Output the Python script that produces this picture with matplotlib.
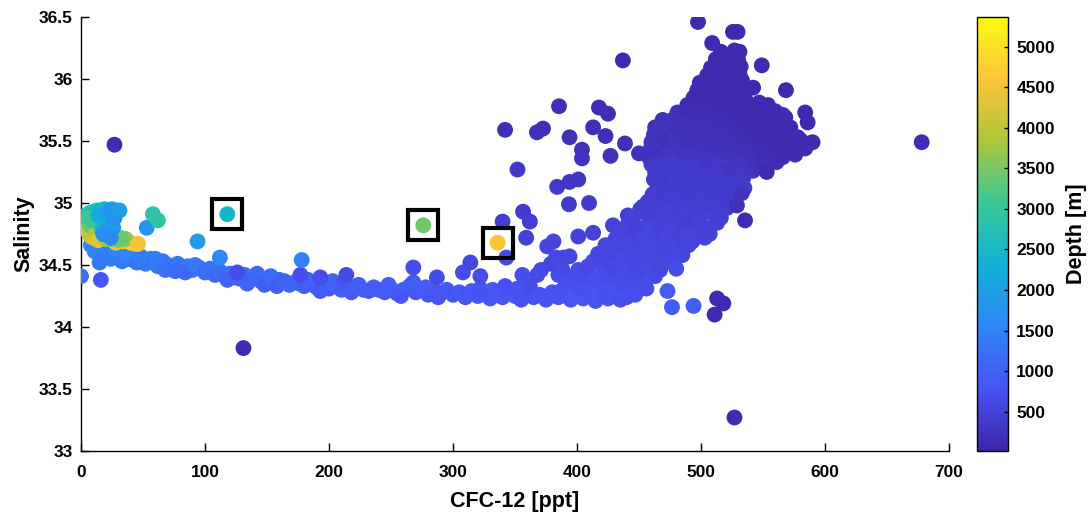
import matplotlib
matplotlib.use("Agg")
import matplotlib.pyplot as plt
from matplotlib.colors import LinearSegmentedColormap, Normalize
from matplotlib.ticker import FuncFormatter, MultipleLocator

plt.rcParams['font.family'] = ['Liberation Sans', 'DejaVu Sans']
plt.rcParams['font.weight'] = 'bold'

# ---------------- data ----------------
# main low-salinity curve
curve_cfc = [8, 12, 15, 19, 22, 26, 30, 34, 38, 42,
             11, 18, 24, 28, 33, 37, 45, 48, 52, 56,
             58, 62, 66, 70, 74, 78, 82, 86, 90, 95,
             60, 68, 76, 84, 92, 100, 104, 108, 112, 116,
             120, 124, 128, 132, 136, 140, 145, 150, 155, 160,
             118, 126, 134, 142, 148, 153, 158, 164, 168, 172,
             176, 180, 185, 190, 195, 200, 205, 210, 215, 220,
             183, 193, 203, 212, 218, 224, 228, 232, 236, 240,
             245, 250, 255, 260, 265, 270, 275, 280, 285, 290,
             248, 258, 268, 278, 288, 295, 300, 305, 310, 315,
             320, 325, 330, 335, 340, 345, 350, 355, 360, 365,
             322, 332, 342, 352, 362, 370, 375, 380, 385, 390,
             395, 400, 405, 410, 415, 420, 425, 430, 435, 440]
curve_sal = [34.66, 34.63, 34.60, 34.61, 34.58, 34.59, 34.56, 34.57, 34.55, 34.54,
             34.61, 34.57, 34.55, 34.62, 34.53, 34.60, 34.52, 34.57, 34.51, 34.55,
             34.52, 34.49, 34.53, 34.50, 34.48, 34.51, 34.47, 34.49, 34.46, 34.48,
             34.55, 34.46, 34.45, 34.44, 34.50, 34.44, 34.47, 34.42, 34.45, 34.41,
             34.43, 34.40, 34.39, 34.42, 34.38, 34.40, 34.37, 34.39, 34.36, 34.38,
             34.38, 34.44, 34.35, 34.43, 34.34, 34.41, 34.33, 34.37, 34.34, 34.36,
             34.35, 34.33, 34.36, 34.32, 34.35, 34.31, 34.34, 34.30, 34.33, 34.31,
             34.38, 34.29, 34.37, 34.36, 34.28, 34.34, 34.30, 34.29, 34.32, 34.30,
             34.28, 34.31, 34.27, 34.30, 34.33, 34.28, 34.30, 34.26, 34.29, 34.27,
             34.34, 34.25, 34.36, 34.32, 34.24, 34.30, 34.26, 34.28, 34.24, 34.29,
             34.25, 34.28, 34.23, 34.27, 34.24, 34.29, 34.25, 34.22, 34.27, 34.24,
             34.31, 34.30, 34.33, 34.31, 34.33, 34.26, 34.22, 34.28, 34.24, 34.26,
             34.22, 34.27, 34.23, 34.25, 34.21, 34.26, 34.23, 34.25, 34.22, 34.24]
curve_dep = [1500, 1450, 1600, 1400, 1500, 1350, 1450, 1300, 1400, 1350,
             1550, 1500, 1400, 1600, 1350, 1550, 1300, 1400, 1350, 1450,
             1300, 1350, 1250, 1300, 1250, 1350, 1200, 1300, 1250, 1200,
             1400, 1200, 1150, 1100, 1350, 1150, 1250, 1100, 1200, 1100,
             1150, 1100, 1050, 1200, 1050, 1100, 1000, 1100, 1000, 1050,
             1000, 700, 1000, 1100, 950, 1150, 950, 1000, 1000, 1050,
             1000, 950, 1050, 950, 1000, 900, 1000, 950, 1000, 900,
             1000, 900, 1050, 800, 900, 1000, 950, 900, 950, 900,
             900, 950, 850, 900, 1000, 850, 900, 850, 900, 850,
             950, 850, 950, 900, 800, 900, 850, 900, 800, 850,
             850, 800, 850, 800, 850, 800, 850, 800, 750, 800,
             800, 850, 750, 800, 700, 800, 850, 750, 800, 800,
             800, 750, 850, 800, 800, 750, 800, 750, 700, 700]

# points scattered just above the curve
upper_cfc = [177, 193, 214, 268, 287, 308, 314, 322, 343, 356, 368, 376,
             381, 389, 392, 401, 409, 413, 423, 429, 441, 453, 465]
upper_sal = [34.42, 34.40, 34.42, 34.48, 34.40, 34.44, 34.52, 34.41, 34.56, 34.42, 34.42, 34.65,
             34.69, 34.56, 34.40, 34.73, 34.39, 34.76, 34.66, 34.82, 34.90, 34.97, 34.86]
upper_dep = [700, 700, 650, 700, 650, 700, 600, 700, 650, 700, 650, 550,
             550, 600, 700, 500, 650, 500, 550, 500, 450, 450, 450]

# rising arm and high-salinity cluster
arm_cfc = [387, 395, 404, 413, 421, 430, 439, 447,
           391, 402, 410, 420, 427, 438, 445, 456,
           371, 385, 395, 406, 414, 426, 433, 445, 452, 463,
           379, 388, 401, 409, 421, 429, 441, 449, 460, 467,
           383, 394, 413, 425, 433, 445, 452, 463, 470, 479,
           417, 429, 437, 449, 456, 467, 474, 485,
           424, 435, 443, 454, 461, 472, 479, 490,
           431, 439, 450, 457, 468, 475, 486, 493, 503,
           435, 446, 453, 464, 471, 482, 489, 500, 507,
           441, 448, 459, 466, 477, 484, 495, 502, 513,
           445, 456, 463, 474, 481, 492, 499, 510, 516,
           451, 462, 469, 480, 487, 498, 505, 516, 521,
           457, 468, 475, 486, 493, 504, 511, 521, 526,
           461, 472, 479, 490, 497, 508, 515, 525,
           465, 472, 483, 490, 501, 508, 519, 526, 535,
           462, 473, 480, 491, 498, 509, 516, 527, 534,
           463, 470, 481, 488, 499, 506, 517, 524, 535, 542,
           460, 471, 478, 489, 496, 507, 514, 525, 532, 543, 550, 561,
           458, 469, 476, 487, 494, 505, 512, 523, 530, 541, 548, 559, 566, 576,
           459, 466, 477, 484, 495, 502, 513, 520, 531, 538, 549, 556, 567, 574, 584,
           460, 471, 479, 490, 497, 508, 515, 526, 533, 544, 551, 562, 569, 580, 587,
           462, 469, 480, 487, 498, 505, 516, 523, 534, 541, 552, 559, 570, 578,
           463, 474, 481, 492, 499, 510, 517, 528, 535, 546, 553, 564, 572,
           469, 478, 489, 496, 507, 514, 525, 532, 543, 550, 561, 568,
           481, 488, 499, 506, 517, 524, 535, 542, 553, 560,
           489, 497, 506, 514, 523, 531, 540, 547,
           494, 502, 511, 519, 528, 536,
           497, 506, 514, 523, 532,
           499, 508, 516, 526, 533,
           505, 513, 521, 531,
           508, 516, 524, 532,
           512, 520, 530,
           516, 527]
arm_sal = [34.29, 34.27, 34.30, 34.28, 34.26, 34.30, 34.28, 34.26,
           34.35, 34.33, 34.34, 34.36, 34.32, 34.35, 34.34, 34.31,
           34.46, 34.42, 34.40, 34.41, 34.39, 34.42, 34.40, 34.42, 34.38, 34.41,
           34.51, 34.47, 34.46, 34.49, 34.46, 34.48, 34.47, 34.45, 34.47, 34.46,
           34.56, 34.57, 34.53, 34.52, 34.55, 34.53, 34.51, 34.54, 34.52, 34.55,
           34.59, 34.61, 34.58, 34.60, 34.58, 34.59, 34.61, 34.58,
           34.65, 34.67, 34.64, 34.65, 34.67, 34.63, 34.65, 34.66,
           34.71, 34.70, 34.73, 34.71, 34.69, 34.72, 34.71, 34.69, 34.72,
           34.77, 34.78, 34.75, 34.77, 34.79, 34.76, 34.77, 34.79, 34.75,
           34.83, 34.81, 34.84, 34.82, 34.81, 34.85, 34.83, 34.81, 34.84,
           34.89, 34.91, 34.88, 34.90, 34.91, 34.87, 34.89, 34.91, 34.88,
           34.95, 34.93, 34.96, 34.95, 34.93, 34.97, 34.95, 34.93, 34.96,
           35.01, 35.03, 35.00, 35.02, 35.03, 34.99, 35.01, 35.03, 35.00,
           35.07, 35.05, 35.08, 35.07, 35.05, 35.09, 35.07, 35.05,
           35.13, 35.15, 35.12, 35.13, 35.15, 35.11, 35.13, 35.15, 35.12,
           35.19, 35.17, 35.20, 35.19, 35.17, 35.21, 35.19, 35.17, 35.20,
           35.25, 35.27, 35.24, 35.25, 35.27, 35.23, 35.25, 35.27, 35.24, 35.26,
           35.31, 35.29, 35.32, 35.31, 35.29, 35.33, 35.31, 35.29, 35.32, 35.30, 35.29, 35.33,
           35.37, 35.39, 35.36, 35.37, 35.39, 35.35, 35.37, 35.39, 35.36, 35.38, 35.39, 35.35, 35.37, 35.39,
           35.43, 35.41, 35.44, 35.43, 35.41, 35.45, 35.43, 35.41, 35.44, 35.42, 35.41, 35.45, 35.43, 35.41, 35.44,
           35.49, 35.51, 35.48, 35.50, 35.51, 35.47, 35.49, 35.51, 35.48, 35.50, 35.51, 35.47, 35.49, 35.51, 35.48,
           35.55, 35.53, 35.56, 35.55, 35.53, 35.57, 35.55, 35.53, 35.56, 35.54, 35.53, 35.57, 35.55, 35.53,
           35.61, 35.63, 35.60, 35.61, 35.63, 35.59, 35.61, 35.63, 35.60, 35.62, 35.63, 35.59, 35.61,
           35.67, 35.65, 35.68, 35.67, 35.65, 35.69, 35.67, 35.65, 35.68, 35.66, 35.65, 35.69,
           35.73, 35.75, 35.72, 35.73, 35.75, 35.71, 35.73, 35.75, 35.72, 35.74,
           35.79, 35.81, 35.78, 35.80, 35.81, 35.77, 35.79, 35.81,
           35.85, 35.87, 35.84, 35.86, 35.87, 35.83,
           35.91, 35.93, 35.90, 35.92, 35.93,
           35.97, 35.99, 35.96, 35.98, 35.99,
           36.03, 36.05, 36.02, 36.04,
           36.09, 36.11, 36.08, 36.10,
           36.16, 36.17, 36.15,
           36.22, 36.23]
arm_dep = [780, 820, 760, 800, 740, 790, 760, 720,
           760, 720, 790, 700, 750, 700, 720, 680,
           650, 700, 720, 680, 730, 660, 700, 650, 690, 640,
           600, 650, 680, 640, 690, 620, 660, 610, 650, 600,
           620, 580, 640, 600, 650, 580, 620, 560, 600, 580,
           600, 560, 620, 570, 600, 550, 580, 540,
           580, 540, 600, 550, 580, 530, 560, 520,
           560, 600, 530, 570, 520, 560, 510, 540, 500,
           540, 500, 560, 510, 550, 490, 520, 480, 510,
           520, 480, 540, 490, 520, 470, 500, 460, 480,
           500, 460, 510, 470, 500, 450, 480, 440, 460,
           470, 440, 490, 450, 470, 430, 460, 420, 440,
           450, 420, 470, 430, 450, 410, 440, 400, 420,
           430, 400, 450, 410, 430, 390, 420, 380,
           410, 380, 430, 390, 410, 370, 400, 360, 380,
           390, 360, 410, 370, 390, 350, 380, 340, 360,
           370, 340, 390, 350, 370, 330, 360, 320, 340, 300,
           350, 320, 370, 330, 350, 310, 340, 300, 320, 260, 220, 190,
           330, 300, 350, 310, 330, 290, 320, 270, 280, 230, 190, 160, 140, 130,
           300, 270, 320, 280, 290, 250, 270, 230, 240, 190, 160, 130, 120, 110, 110,
           250, 230, 270, 230, 240, 210, 230, 200, 180, 160, 140, 120, 110, 100, 110,
           240, 210, 250, 220, 230, 190, 210, 180, 160, 140, 120, 110, 100, 100,
           230, 200, 240, 200, 210, 180, 190, 160, 140, 120, 110, 100, 100,
           210, 190, 220, 180, 190, 160, 170, 140, 120, 110, 100, 100,
           180, 160, 180, 150, 160, 130, 140, 120, 110, 100,
           150, 130, 160, 120, 140, 110, 120, 100,
           130, 110, 140, 100, 120, 100,
           120, 100, 110, 90, 100,
           110, 90, 100, 90, 100,
           100, 90, 100, 80,
           100, 80, 90, 80,
           90, 80, 80,
           80, 80]

# isolated points around the arm
scat_cfc = [497.6, 525.8, 529.5, 509, 437, 549, 568.5, 385.5, 417.7, 425,
            342, 367.7, 372.6, 413, 394, 423, 404, 404, 438.7, 427,
            450, 461, 584, 586, 590, 352, 384, 394, 401, 393.5,
            409.7, 356.5, 362, 340, 359, 535.5, 529, 533, 553, 473,
            476.6, 494, 513, 518, 511, 480, 566, 554, 542, 531,
            530, 463, 467, 477]
scat_sal = [36.46, 36.38, 36.38, 36.29, 36.15, 36.11, 35.91, 35.78, 35.77, 35.72,
            35.59, 35.57, 35.60, 35.61, 35.53, 35.54, 35.43, 35.36, 35.48, 35.38,
            35.40, 35.39, 35.73, 35.65, 35.49, 35.27, 35.13, 35.17, 35.19, 34.99,
            35.00, 34.93, 34.85, 34.85, 34.72, 34.86, 34.98, 35.08, 35.25, 34.29,
            34.16, 34.17, 34.23, 34.19, 34.10, 34.47, 35.71, 35.79, 35.93, 36.22,
            36.11, 35.32, 35.61, 35.67]
scat_dep = [90, 90, 90, 100, 110, 100, 90, 170, 150, 160,
            200, 190, 180, 170, 210, 180, 230, 260, 170, 240,
            220, 230, 90, 90, 100, 310, 330, 310, 300, 360,
            350, 400, 420, 430, 460, 140, 220, 250, 140, 900,
            950, 950, 110, 100, 90, 700, 100, 100, 90, 90,
            90, 330, 250, 230]

# deep water near zero CFC
left_cfc = [2, 4, 6, 8, 10, 3, 5, 7, 12, 14,
            28, 34, 40, 44, 36, 30, 25, 20, 46, 32,
            4, 7, 10, 13, 16, 19, 22, 25, 28, 12,
            15, 18, 20, 24, 9, 6, 17, 22, 26, 14,
            20, 23, 27, 31, 18, 24]
left_sal = [34.84, 34.80, 34.76, 34.73, 34.72, 34.88, 34.86, 34.82, 34.75, 34.70,
            34.68, 34.69, 34.68, 34.67, 34.71, 34.70, 34.71, 34.71, 34.67, 34.72,
            34.90, 34.92, 34.93, 34.94, 34.94, 34.95, 34.93, 34.95, 34.94, 34.88,
            34.85, 34.82, 34.88, 34.86, 34.86, 34.88, 34.78, 34.79, 34.80, 34.90,
            34.91, 34.94, 34.88, 34.94, 34.75, 34.72]
left_dep = [4200, 4300, 4100, 4000, 4200, 3800, 3600, 3400, 3900, 4300,
            4500, 4400, 4600, 4700, 3600, 3500, 3300, 3700, 4500, 3400,
            2700, 2800, 2600, 2500, 2400, 2500, 2300, 2200, 2000, 2600,
            2700, 2500, 2300, 2100, 3000, 3100, 2400, 2000, 1900, 2200,
            2100, 1800, 1700, 1900, 1700, 1600]

# single outliers
out_cfc = [27, 131, 527, 678, 0, 15, 16, 53, 94, 58, 62, 178, 112]
out_sal = [35.47, 33.83, 33.27, 35.49, 34.41, 34.52, 34.38, 34.80, 34.69, 34.91, 34.86, 34.54, 34.56]
out_dep = [140, 110, 110, 150, 1250, 1350, 850, 1800, 1900, 2900, 2900, 1450, 1600]

# highlighted (boxed) samples
box_cfc = [118, 276, 336]
box_sal = [34.91, 34.82, 34.68]
box_dep = [2450, 3450, 4550]

depth_ticks = [500, 1000, 1500, 2000, 2500, 3000, 3500, 4000, 4500, 5000]
depth_lim = (15, 5366)

for a, b, c in [(curve_cfc, curve_sal, curve_dep), (upper_cfc, upper_sal, upper_dep),
                (arm_cfc, arm_sal, arm_dep), (scat_cfc, scat_sal, scat_dep),
                (left_cfc, left_sal, left_dep), (out_cfc, out_sal, out_dep)]:
    assert len(a) == len(b) == len(c), (len(a), len(b), len(c))

# ---------------- parula colormap ----------------
parula = LinearSegmentedColormap.from_list("parula", [
    (0.0, (0.2422, 0.1504, 0.6603)),
    (1/7, (0.2810, 0.3228, 0.9579)),
    (2/7, (0.1786, 0.5289, 0.9682)),
    (3/7, (0.0689, 0.6948, 0.8394)),
    (4/7, (0.2161, 0.7843, 0.5923)),
    (5/7, (0.6720, 0.7793, 0.2227)),
    (6/7, (0.9970, 0.7659, 0.2199)),
    (1.0, (0.9769, 0.9839, 0.0805)),
], N=256)
norm = Normalize(*depth_lim)

# ---------------- figure ----------------
fig = plt.figure(figsize=(10.89, 5.14), dpi=100)
ax = fig.add_axes([81/1089, 63/514, 868/1089, 434/514])
cax = fig.add_axes([977/1089, 63/514, 31/1089, 434/514])

S = 130
kw = dict(s=S, cmap=parula, norm=norm, linewidths=0, zorder=3)
sc = ax.scatter(curve_cfc, curve_sal, c=curve_dep, **kw)
ax.scatter(upper_cfc, upper_sal, c=upper_dep, **kw)
ax.scatter(arm_cfc, arm_sal, c=arm_dep, **kw)
ax.scatter(scat_cfc, scat_sal, c=scat_dep, **kw)
ax.scatter(left_cfc, left_sal, c=left_dep, **kw)
ax.scatter(out_cfc, out_sal, c=out_dep, **kw)
ax.scatter(box_cfc, box_sal, c=box_dep, **kw)
ax.plot(box_cfc, box_sal, linestyle='none', marker='s', markersize=22,
        markerfacecolor='none', markeredgecolor='black', markeredgewidth=3.0, zorder=4)

ax.set_xlim(0, 700)
ax.set_ylim(33, 36.5)
ax.xaxis.set_major_locator(MultipleLocator(100))
ax.yaxis.set_major_locator(MultipleLocator(0.5))
fmt = FuncFormatter(lambda v, p: f"{v:g}")
ax.xaxis.set_major_formatter(fmt)
ax.yaxis.set_major_formatter(fmt)
for side in ['top', 'right']:
    ax.spines[side].set_visible(False)
for side in ['left', 'bottom']:
    ax.spines[side].set_linewidth(1.0)
ax.tick_params(direction='in', length=6, width=1.0, labelsize=12.5, pad=6)
ax.tick_params(axis='x', pad=10)
for lab in ax.get_xticklabels() + ax.get_yticklabels():
    lab.set_fontweight('bold')
ax.set_xlabel('CFC-12 [ppt]', fontsize=15.5, fontweight='bold', labelpad=8)
ax.set_ylabel('Salinity', fontsize=15.5, fontweight='bold', labelpad=3)

cb = fig.colorbar(sc, cax=cax)
cb.set_ticks(depth_ticks)
cb.ax.tick_params(direction='in', length=3, width=1.0, labelsize=12.5, pad=6)
for lab in cb.ax.get_yticklabels():
    lab.set_fontweight('bold')
cb.outline.set_linewidth(1.0)
cb.set_label('Depth [m]', fontsize=15.5, fontweight='bold', labelpad=8)

fig.savefig('out.png', dpi=100)
